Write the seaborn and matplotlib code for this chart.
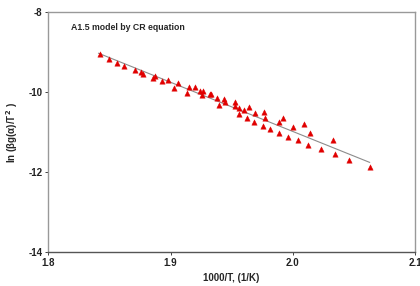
import numpy as np
import pandas as pd
import matplotlib
matplotlib.use("Agg")
import matplotlib.pyplot as plt
import seaborn as sns

# 1000/T values (1/K)
inv_t = [1.8425, 1.8499, 1.8562, 1.8621, 1.8706, 1.8759, 1.8774, 1.8859, 1.8873, 1.8932,
         1.8977, 1.9028, 1.9061, 1.9134, 1.9154, 1.9203, 1.9239, 1.9262, 1.9254, 1.9327,
         1.9335, 1.9382, 1.9399, 1.9439, 1.9443, 1.9531, 1.9525, 1.9563, 1.9564, 1.9602,
         1.9640, 1.9627, 1.9688, 1.9684, 1.9762, 1.9777, 1.9754, 1.9811, 1.9885, 1.9890,
         1.9919, 1.9964, 2.0001, 2.0047, 2.0091, 2.0126, 2.0144, 2.0228, 2.0329, 2.0343,
         2.0463, 2.0630]
# ln(beta g(alpha) / T^2)
ln_val = [-9.050, -9.168, -9.275, -9.350, -9.455, -9.498, -9.543, -9.635, -9.588, -9.730,
          -9.683, -9.900, -9.780, -10.013, -9.868, -9.868, -9.958, -9.970, -10.080, -10.055,
          -10.055, -10.150, -10.325, -10.158, -10.243, -10.255, -10.335, -10.388, -10.538, -10.438,
          -10.360, -10.643, -10.530, -10.743, -10.493, -10.643, -10.835, -10.923, -10.750, -11.013,
          -10.638, -11.110, -10.873, -11.203, -10.805, -11.310, -11.018, -11.430, -11.185, -11.548,
          -11.698, -11.868]

x_ticks = [1.8, 1.9, 2.0, 2.1]
y_ticks = [-8, -10, -12, -14]

df = pd.DataFrame({"x": inv_t, "y": ln_val})

sns.set_style("white")
plt.rcParams["font.family"] = ["Liberation Sans", "DejaVu Sans"]
plt.rcParams["font.weight"] = "bold"

fig = plt.figure(figsize=(4.2, 2.86), dpi=100)
ax = fig.add_axes([0.115, 0.118, 0.873, 0.839])

# linear fit (CR equation)
slope, icpt = np.polyfit(df["x"], df["y"], 1)
fx = np.array([df["x"].min() - 0.0015, df["x"].max()])
ax.plot(fx, slope * fx + icpt, color="#8c8c8c", lw=0.8, zorder=1)

sns.scatterplot(data=df, x="x", y="y", ax=ax, marker="^", color="#e00000",
                s=15, edgecolor="#e00000", linewidth=0.3, zorder=2)

ax.set_xlim(1.8, 2.1)
ax.set_ylim(-14, -8)
ax.set_xticks(x_ticks)
ax.set_yticks(y_ticks)
ax.set_xticklabels([f"{v:.1f}" for v in x_ticks], fontsize=7, fontweight="bold")
ax.set_yticklabels([str(v) for v in y_ticks], fontsize=7, fontweight="bold")
ax.tick_params(axis="both", direction="out", length=2.5, width=0.6, pad=1.5,
               colors="#222222", bottom=True, left=True)

for side in ["top", "right", "left"]:
    ax.spines[side].set_color("#999999")
    ax.spines[side].set_linewidth(1.0)
ax.spines["bottom"].set_color("#555555")
ax.spines["bottom"].set_linewidth(1.0)

ax.set_xlabel("1000/T, (1/K)", fontsize=7, fontweight="bold", labelpad=4)
ax.set_ylabel("ln (βg(α)/T$^{\\,2}$ )", fontsize=7, fontweight="bold", labelpad=6)

ax.text(0.063, 0.935, "A1.5 model by CR equation", transform=ax.transAxes,
        fontsize=6.3, fontweight="bold", va="center", ha="left")

fig.savefig("out.png", dpi=100)
